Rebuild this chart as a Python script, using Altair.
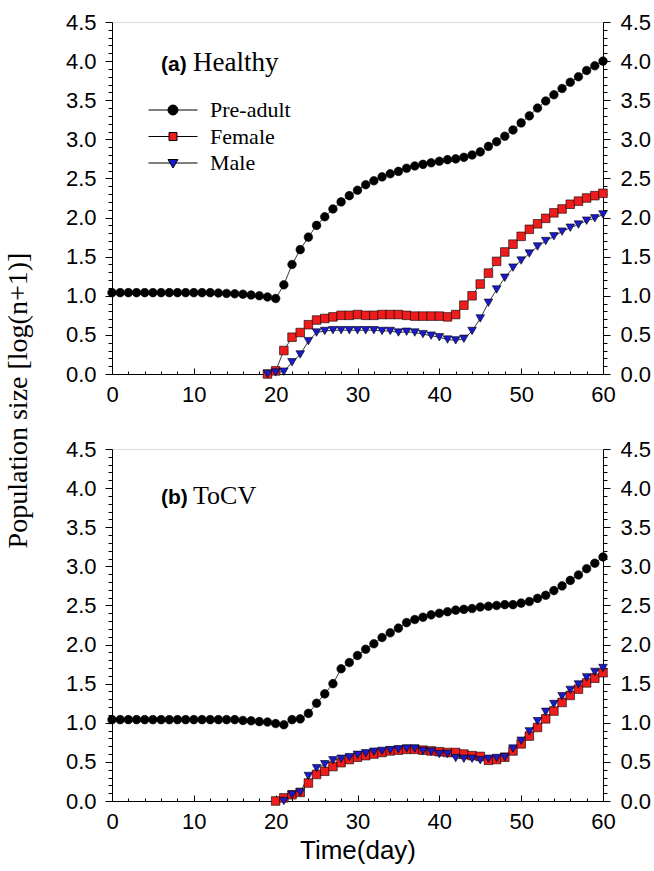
import altair as alt
import pandas as pd

# ---------------- data ----------------
days = list(range(61))
series_names = ["Pre-adult", "Female", "Male"]
series_colors = ["#000000", "#ee1c1c", "#1a1ac8"]

# Panel (a) Healthy
a_pre = [1.04] * 13 + [1.035, 1.03, 1.025, 1.02, 1.01, 1.00, 0.985, 0.965,
         1.14, 1.40, 1.59, 1.75, 1.90, 2.01, 2.11, 2.20, 2.28, 2.35, 2.42, 2.47, 2.52, 2.56,
         2.59, 2.63, 2.66, 2.68, 2.70, 2.72, 2.74, 2.75, 2.77, 2.80, 2.84, 2.91, 2.97, 3.04,
         3.12, 3.21, 3.30, 3.40, 3.49, 3.57, 3.65, 3.73, 3.80, 3.88, 3.94, 4.00]
a_female_start = 19
a_female = [0.00, 0.04, 0.30, 0.47, 0.53, 0.63, 0.69, 0.71, 0.73, 0.75, 0.75, 0.76, 0.75, 0.75, 0.76, 0.76,
            0.76, 0.75, 0.74, 0.74, 0.74, 0.74, 0.73, 0.76, 0.88, 1.00, 1.15, 1.29, 1.44, 1.56, 1.66,
            1.76, 1.85, 1.92, 1.99, 2.06, 2.11, 2.17, 2.21, 2.25, 2.28, 2.31]
a_male_start = 19
a_male = [0.00, 0.02, 0.03, 0.15, 0.25, 0.42, 0.53, 0.55, 0.56, 0.56, 0.56, 0.56, 0.56, 0.56, 0.55, 0.55,
          0.53, 0.54, 0.53, 0.51, 0.49, 0.47, 0.44, 0.43, 0.45, 0.55, 0.71, 0.91, 1.08, 1.23, 1.36,
          1.45, 1.54, 1.63, 1.70, 1.76, 1.82, 1.87, 1.91, 1.96, 1.99, 2.04]

# Panel (b) ToCV
b_pre = [1.04] * 16 + [1.03, 1.025, 1.015, 1.01, 0.99, 0.975, 1.04, 1.05, 1.12, 1.25, 1.37, 1.50,
         1.69, 1.77, 1.86, 1.94, 2.01, 2.09, 2.15, 2.21, 2.28, 2.32, 2.35, 2.38, 2.40, 2.42, 2.44,
         2.45, 2.46, 2.48, 2.49, 2.50, 2.51, 2.51, 2.53, 2.55, 2.59, 2.63, 2.69, 2.75, 2.82, 2.89,
         2.97, 3.04, 3.12]
b_female_start = 20
b_female = [0.00, 0.04, 0.08, 0.11, 0.23, 0.34, 0.38, 0.44, 0.49, 0.53, 0.56, 0.58, 0.60, 0.62, 0.64,
            0.65, 0.66, 0.66, 0.65, 0.64, 0.63, 0.62, 0.62, 0.60, 0.58, 0.57, 0.52, 0.53, 0.56, 0.64,
            0.73, 0.83, 0.94, 1.05, 1.15, 1.26, 1.35, 1.43, 1.51, 1.57, 1.64]
b_male_start = 21
b_male = [0.00, 0.08, 0.11, 0.32, 0.42, 0.47, 0.52, 0.54, 0.56, 0.59, 0.61, 0.63, 0.64, 0.65,
          0.66, 0.67, 0.67, 0.64, 0.63, 0.60, 0.60, 0.55, 0.54, 0.54, 0.52, 0.54, 0.55, 0.56, 0.67,
          0.77, 0.89, 1.02, 1.14, 1.24, 1.34, 1.42, 1.49, 1.58, 1.65, 1.70]

x_major = [0, 10, 20, 30, 40, 50, 60]
x_all_ticks = list(range(0, 61, 2))
y_all_ticks = [round(i * 0.1, 1) for i in range(46)]

panel_a_tag, panel_a_name = "(a)", "Healthy"
panel_b_tag, panel_b_name = "(b)", "ToCV"
y_title = "Population size [log(n+1)]"
x_title = "Time(day)"

# legend symbols: a line with the marker in the middle
legend_paths = [
    "M-4.9,0H-1M1,0H4.9M1,0A1,1,0,1,1,-1,0A1,1,0,1,1,1,0Z",
    "M-4.9,0H-0.8M0.8,0H4.9M-0.8,-0.8H0.8V0.8H-0.8Z",
    "M-4.9,0H-0.6M0.6,0H4.9M-1,-0.7H1L0,1Z",
]


def long_df(pre, fem, fem_start, male, male_start):
    rows = []
    for d, v in zip(days, pre):
        rows.append({"day": d, "value": v, "series": "Pre-adult"})
    for i, v in enumerate(fem):
        rows.append({"day": fem_start + i, "value": v, "series": "Female"})
    for i, v in enumerate(male):
        rows.append({"day": male_start + i, "value": v, "series": "Male"})
    return pd.DataFrame(rows)


W, H = 491, 352
SANS = "Liberation Sans"
SERIF = "Liberation Serif"

major_x_test = "datum.value % 10 === 0"
major_y_test = "round(datum.value * 10) % 5 === 0"


def panel(df, tag, name, show_legend, y_axis_title, x_axis_title, tag_y, name_size):
    xs = alt.Scale(domain=[0, 60], nice=False, zero=False)
    ys = alt.Scale(domain=[0, 4.5], nice=False, zero=False)

    # lines: carry the top (inward ticks, placed on the bottom edge) and right axes
    lines = alt.Chart(df).mark_line(color="#222222", strokeWidth=0.9).encode(
        x=alt.X("day:Q", scale=xs, axis=alt.Axis(
            orient="top", offset=-H, values=x_all_ticks, labels=False, domain=False,
            grid=False, title=None, tickColor="black", tickWidth=1,
            tickSize={"condition": {"test": major_x_test, "value": 6}, "value": 3})),
        y=alt.Y("value:Q", scale=ys, axis=alt.Axis(
            orient="right", values=y_all_ticks, grid=False, title=None,
            labelExpr=f"{major_y_test} ? format(datum.value, '.1f') : ''",
            labelOverlap=False, labelFlush=False, labelFont=SANS, labelFontSize=22,
            labelColor="black", labelPadding=10, domainColor="black", tickColor="black",
            tickSize={"condition": {"test": major_y_test, "value": 7}, "value": 4})),
        detail="series:N",
        order="day:Q",
    )

    left_axis = dict(
        orient="left", values=y_all_ticks, grid=False,
        labelExpr=f"{major_y_test} ? format(datum.value, '.1f') : ''",
        labelOverlap=False, labelFlush=False, labelFont=SANS, labelFontSize=22,
        labelColor="black", labelPadding=9, domainColor="black", tickColor="black",
        tickSize={"condition": {"test": major_y_test, "value": 7}, "value": 4},
    )
    if y_axis_title:
        left_axis.update(title=y_axis_title, titleFont=SERIF, titleFontSize=28,
                         titleFontWeight="normal", titleColor="black", titleAngle=270,
                         titleBaseline="bottom", titleAlign="center", titleX=-80, titleY=378)
    else:
        left_axis.update(title=None)

    bottom_axis = dict(
        orient="bottom", values=x_major, ticks=False, grid=False,
        labelFont=SANS, labelFontSize=22, labelColor="black", labelPadding=10,
        labelFlush=False, labelOverlap=False, domainColor="black",
    )
    if x_axis_title:
        bottom_axis.update(title=x_axis_title, titleFont=SANS, titleFontSize=26,
                           titleFontWeight="normal", titleColor="black", titlePadding=5)
    else:
        bottom_axis.update(title=None)

    points = alt.Chart(df).mark_point(filled=True, stroke="black", strokeWidth=0.6,
                                      opacity=1, size=74).encode(
        x=alt.X("day:Q", scale=xs, axis=alt.Axis(**bottom_axis)),
        y=alt.Y("value:Q", scale=ys, axis=alt.Axis(**left_axis)),
        shape=alt.Shape("series:N", scale=alt.Scale(
            domain=series_names, range=["circle", "square", "triangle-down"]), legend=None),
        fill=alt.Fill("series:N", scale=alt.Scale(domain=series_names, range=series_colors),
                      legend=None),
    )

    tag_df = pd.DataFrame({"t": [tag]})
    name_df = pd.DataFrame({"t": [name]})
    tag_text = alt.Chart(tag_df).mark_text(
        font=SANS, fontWeight="bold", fontSize=21, align="left", baseline="alphabetic",
        color="black").encode(x=alt.value(49), y=alt.value(tag_y), text="t:N")
    name_text = alt.Chart(name_df).mark_text(
        font=SERIF, fontSize=name_size, align="left", baseline="alphabetic",
        color="black").encode(x=alt.value(81), y=alt.value(tag_y), text="t:N")

    inner = [points, tag_text, name_text]
    if show_legend:
        leg = alt.Legend(title=None, orient="none", legendX=50, legendY=77, padding=0,
                         labelFont=SERIF, labelFontSize=22, labelColor="black",
                         symbolSize=100, symbolStrokeColor="black", symbolStrokeWidth=1,
                         labelOffset=26, rowPadding=4.5, symbolOpacity=1)
        legend_layer = alt.Chart(df).transform_filter("false").transform_calculate(
            leg="datum.series").mark_point(filled=True, strokeWidth=1, opacity=1).encode(
            shape=alt.Shape("leg:N", scale=alt.Scale(domain=series_names, range=legend_paths),
                            legend=leg),
            fill=alt.Fill("leg:N", scale=alt.Scale(domain=series_names, range=series_colors),
                          legend=leg),
            stroke=alt.Stroke("leg:N", scale=alt.Scale(domain=series_names,
                                                       range=["black", "black", "black"]),
                              legend=leg),
        )
        inner.append(legend_layer)
    inner_layer = alt.layer(*inner).resolve_scale(
        shape="independent", fill="independent", stroke="independent")

    return alt.layer(lines, inner_layer).resolve_scale(
        x="independent", y="independent").resolve_axis(
        x="independent", y="independent").properties(width=W, height=H)


df_a = long_df(a_pre, a_female, a_female_start, a_male, a_male_start)
df_b = long_df(b_pre, b_female, b_female_start, b_male, b_male_start)

top = panel(df_a, panel_a_tag, panel_a_name, True, y_title, None, 49, 27)
bottom = panel(df_b, panel_b_tag, panel_b_name, False, None, x_title, 55, 26)

chart = alt.vconcat(top, bottom, spacing=75, bounds="flush").properties(
    padding={"left": 3, "top": 10, "right": 0, "bottom": 0}
).configure_view(stroke="#808080", strokeWidth=1).configure(background="white")

chart.save("out.html", embed_options={"renderer": "svg", "actions": False})
